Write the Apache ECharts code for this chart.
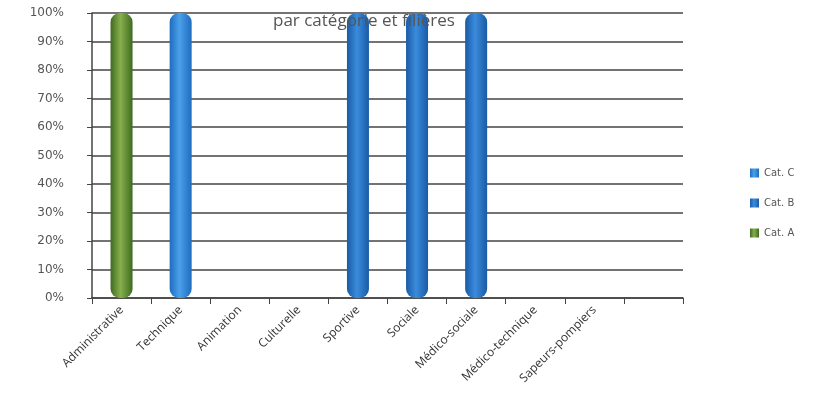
<!DOCTYPE html>
<html>
<head>
<meta charset="utf-8">
<script src="https://cdn.jsdelivr.net/npm/echarts@6/dist/echarts.min.js"></script>
<style>
  html, body { margin: 0; padding: 0; background: #fff; }
  #chart { width: 825px; height: 411px; }
</style>
</head>
<body>
<div id="chart"></div>
<script>
const categories = ['Administrative', 'Technique', 'Animation', 'Culturelle', 'Sportive', 'Sociale', 'Médico-sociale', 'Médico-technique', 'Sapeurs-pompiers', ''];
const catA = [100, 0, 0, 0, 0, 0, 0, 0, 0, null];
const catB = [0, 0, 0, 0, 100, 100, 100, 0, 0, null];
const catC = [0, 100, 0, 0, 0, 0, 0, 0, 0, null];
const yTicks = [0, 10, 20, 30, 40, 50, 60, 70, 80, 90, 100];

function cyl(dark, light) {
    return new echarts.graphic.LinearGradient(0, 0, 1, 0, [
        { offset: 0, color: dark },
        { offset: 0.45, color: light },
        { offset: 1, color: dark }
    ]);
}

const chart = echarts.init(document.getElementById('chart'));

const barStyle = (dark, light) => ({
    color: cyl(dark, light),
    borderRadius: [9, 9, 9, 9]
});

chart.setOption({
    animation: false,
    title: {
        text: 'par catégorie et filières',
        left: 268,
        top: 8,
        textStyle: { fontFamily: 'Open Sans', fontSize: 17, fontWeight: 'normal', color: '#555' }
    },
    legend: {
        orient: 'vertical',
        left: 745,
        top: 163,
        itemWidth: 9,
        itemHeight: 9,
        itemGap: 20,
        icon: 'rect',
        data: ['Cat. C', 'Cat. B', 'Cat. A'],
        textStyle: { fontFamily: 'DejaVu Sans', fontSize: 10, color: '#555' }
    },
    grid: { left: 92, right: 142, top: 13, bottom: 113 },
    xAxis: {
        type: 'category',
        data: categories,
        axisLine: { lineStyle: { color: '#444', width: 1.5 } },
        axisTick: { show: true, length: 6, lineStyle: { color: '#444' } },
        axisLabel: {
            rotate: 45,
            interval: 0,
            margin: 10,
            fontFamily: 'Open Sans',
            fontSize: 12,
            color: '#333'
        }
    },
    yAxis: {
        type: 'value',
        min: yTicks[0],
        max: yTicks[yTicks.length - 1],
        interval: 10,
        axisLine: { show: true, lineStyle: { color: '#444', width: 1.5 } },
        axisTick: { show: true, length: 5, lineStyle: { color: '#444' } },
        splitLine: { lineStyle: { color: '#444', width: 1.5 } },
        axisLabel: {
            formatter: '{value}%',
            margin: 28,
            fontFamily: 'DejaVu Sans',
            fontSize: 12,
            color: '#555'
        }
    },
    series: [
        {
            name: 'Cat. A', type: 'bar', stack: 'total', barWidth: 22, data: catA,
            itemStyle: barStyle('#3f6a1f', '#86b04e')
        },
        {
            name: 'Cat. B', type: 'bar', stack: 'total', barWidth: 22, data: catB,
            itemStyle: barStyle('#1a5aa6', '#3a8cdc')
        },
        {
            name: 'Cat. C', type: 'bar', stack: 'total', barWidth: 22, data: catC,
            itemStyle: barStyle('#1f6cbf', '#4aa0ea')
        }
    ]
});
</script>
</body>
</html>
